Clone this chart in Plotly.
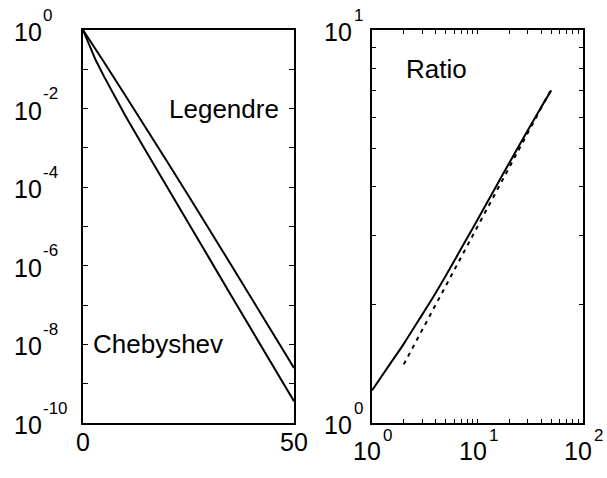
import plotly.graph_objects as go

# left panel: coefficient magnitudes vs degree
n_coef = [0, 1, 2, 3, 5, 10, 15, 20, 25, 30, 35, 40, 45, 50]
legendre = [1, 0.692, 0.479, 0.324, 0.151, 0.0219, 3.16e-3, 4.37e-4, 6.03e-5,
            8.32e-6, 1.10e-6, 1.45e-7, 1.91e-8, 2.51e-9]
chebyshev = [1, 0.571, 0.302, 0.172, 0.0650, 6.71e-3, 7.94e-4, 9.55e-5, 1.19e-5,
             1.50e-6, 1.84e-7, 2.29e-8, 2.85e-9, 3.56e-10]

# right panel: ratio Legendre / Chebyshev and the reference slope
n_ratio = [1, 1.5, 2, 3, 4, 5, 8, 10, 15, 20, 30, 40, 50]
ratio = [1.21, 1.42, 1.59, 1.89, 2.14, 2.37, 2.96, 3.29, 4.00, 4.59, 5.56, 6.35, 7.02]
n_ref = [2, 5, 10, 20, 50]
ratio_ref = [1.41, 2.24, 3.16, 4.47, 7.07]

left_x_ticks = [0, 50]
left_y_exps = [0, -2, -4, -6, -8, -10]
right_x_exps = [0, 1, 2]
right_y_exps = [0, 1]
right_minor_x = [1, 2, 3, 4, 5, 6, 7, 8, 9, 10, 20, 30, 40, 50, 60, 70, 80, 90, 100]
right_minor_y = [1, 2, 3, 4, 5, 6, 7, 8, 9, 10]

FONT = "Liberation Sans, Arial, Helvetica, sans-serif"
BIG = {"family": FONT, "size": 25, "color": "black"}
SMALL = {"family": FONT, "size": 17, "color": "black"}
LABEL = {"family": FONT, "size": 26, "color": "black"}
W, H = 607, 478


def px(x):
    # pixel -> paper fraction
    return x / W


fig = go.Figure()
line = {"color": "black", "width": 2}
fig.add_trace(go.Scatter(x=n_coef, y=legendre, mode="lines", line=line,
                         xaxis="x", yaxis="y", name="Legendre"))
fig.add_trace(go.Scatter(x=n_coef, y=chebyshev, mode="lines", line=line,
                         xaxis="x", yaxis="y", name="Chebyshev"))
fig.add_trace(go.Scatter(x=n_ratio, y=ratio, mode="lines", line=line,
                         line_shape="spline", xaxis="x2", yaxis="y2", name="Ratio"))
fig.add_trace(go.Scatter(x=n_ref, y=ratio_ref, mode="lines",
                         line={"color": "black", "width": 2, "dash": "4px,5px"},
                         xaxis="x2", yaxis="y2", name="reference"))

axis_common = dict(showline=True, linecolor="black", linewidth=1.5, mirror="ticks",
                   ticks="inside", tickcolor="black", tickwidth=1, showgrid=False,
                   zeroline=False, showticklabels=False, automargin=False)

fig.update_layout(
    width=W, height=H,
    paper_bgcolor="white", plot_bgcolor="white",
    showlegend=False,
    margin={"l": 0, "r": 0, "t": 30, "b": 55, "pad": 0},
    xaxis=dict(axis_common, domain=[px(83), px(294)], range=[0, 50],
               tickvals=left_x_ticks, ticklen=5),
    yaxis=dict(axis_common, type="log", range=[-10, 0], anchor="x",
               tickvals=[10.0 ** -k for k in range(11)], ticklen=5),
    xaxis2=dict(axis_common, type="log", domain=[px(372), px(583)], range=[0, 2],
                anchor="y2", tickvals=right_minor_x, ticklen=4),
    yaxis2=dict(axis_common, type="log", range=[0, 1], anchor="x2",
                tickvals=right_minor_y, ticklen=4),
)


def power_label(base_kw, exp_kw, e):
    fig.add_annotation(text="10", font=BIG, showarrow=False, borderpad=0, **base_kw)
    fig.add_annotation(text=str(e), font=SMALL, showarrow=False, borderpad=0,
                       xanchor="left", yanchor="middle", **exp_kw)


# tick labels drawn as "10" with a raised exponent, MATLAB style
for e in left_y_exps:
    power_label(dict(x=px(13), xref="paper", xanchor="left", y=e, yref="y",
                     yanchor="middle", yshift=-2),
                dict(x=px(42), xref="paper", y=e, yref="y", yshift=15), e)

for e in right_y_exps:
    power_label(dict(x=px(353), xref="paper", xanchor="right", y=e, yref="y2",
                     yanchor="middle", yshift=-2),
                dict(x=px(353), xref="paper", y=e, yref="y2", yshift=15), e)

for e in right_x_exps:
    power_label(dict(x=e, xref="x2", xanchor="center", xshift=-5, y=0, yref="paper",
                     yanchor="middle", yshift=-28),
                dict(x=e, xref="x2", xshift=10, y=0, yref="paper", yshift=-12), e)

for v in left_x_ticks:
    fig.add_annotation(x=v, xref="x", y=0, yref="paper", yanchor="middle", yshift=-19,
                       text=str(v), font=BIG, showarrow=False, borderpad=0)

fig.add_annotation(x=20, y=-2, xref="x", yref="y", text="Legendre", showarrow=False,
                   xanchor="left", yanchor="middle", font=LABEL)
fig.add_annotation(x=2, y=-8, xref="x", yref="y", text="Chebyshev", showarrow=False,
                   xanchor="left", yanchor="middle", font=LABEL)
fig.add_annotation(x=0.301, y=0.9, xref="x2", yref="y2", text="Ratio", showarrow=False,
                   xanchor="left", yanchor="middle", font=LABEL)

# drop the browser's default 8px body margin so the figure fills the window exactly
fig.write_html("out.html", config={"displayModeBar": False},
               post_script="document.body.style.margin = '0px';")
